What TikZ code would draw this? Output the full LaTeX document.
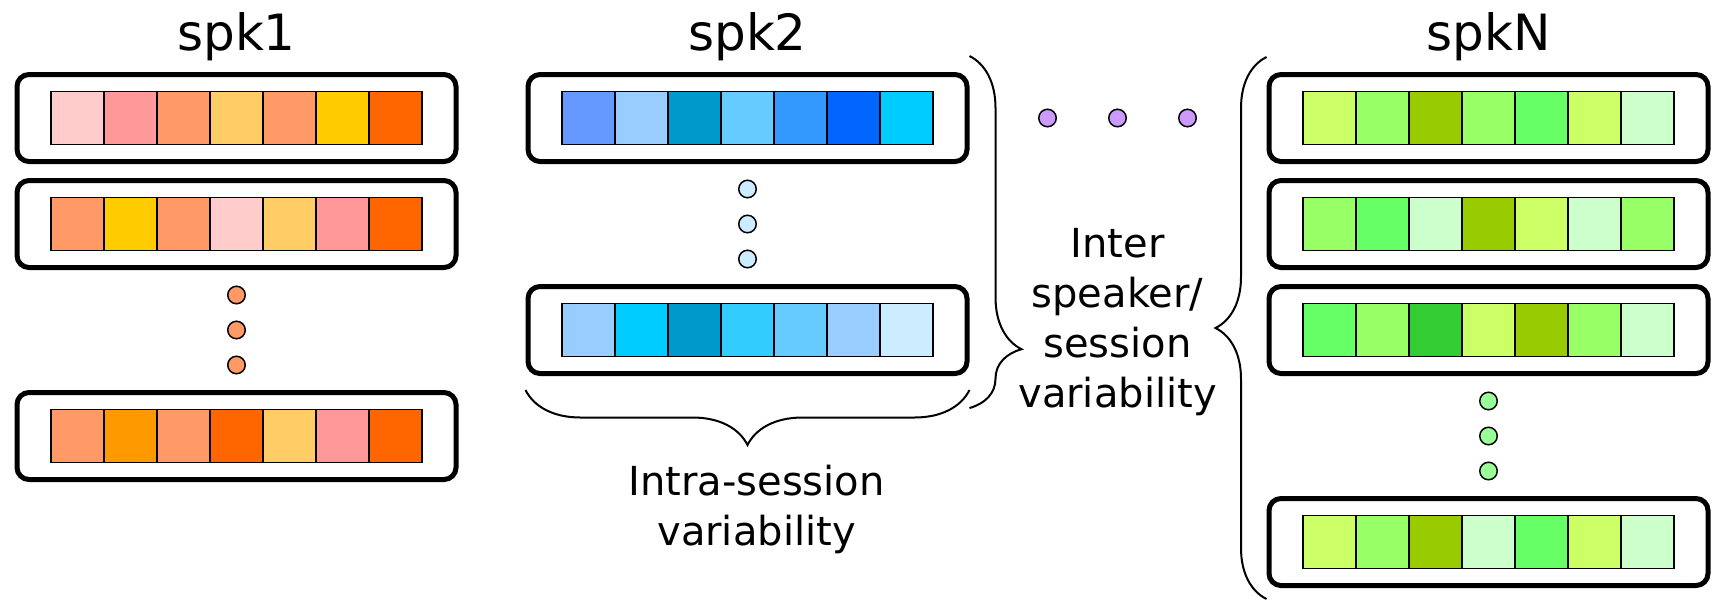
\documentclass[tikz,border=0pt]{standalone}
\usepackage{fontspec}
\setmainfont{DejaVu Sans}
\usepackage{tikz}
\usetikzlibrary{decorations.pathreplacing}

\definecolor{pinkA}{HTML}{FFCCCC}
\definecolor{pinkB}{HTML}{FF9999}
\definecolor{salmon}{HTML}{FF9966}
\definecolor{sand}{HTML}{FFCC66}
\definecolor{gold}{HTML}{FFCC00}
\definecolor{amber}{HTML}{FF9900}
\definecolor{tang}{HTML}{FF6600}
\definecolor{blueA}{HTML}{6699FF}
\definecolor{blueB}{HTML}{99CCFF}
\definecolor{blueC}{HTML}{0099CC}
\definecolor{blueD}{HTML}{66CCFF}
\definecolor{blueE}{HTML}{3399FF}
\definecolor{blueF}{HTML}{0066FF}
\definecolor{blueG}{HTML}{00CCFF}
\definecolor{blueH}{HTML}{33CCFF}
\definecolor{blueI}{HTML}{CCECFF}
\definecolor{limeA}{HTML}{CCFF66}
\definecolor{limeB}{HTML}{99FF66}
\definecolor{limeC}{HTML}{99CC00}
\definecolor{limeD}{HTML}{66FF66}
\definecolor{limeE}{HTML}{CCFFCC}
\definecolor{limeF}{HTML}{33CC33}
\definecolor{mint}{HTML}{99FF99}
\definecolor{lilac}{HTML}{CC99FF}

% seven cells across the row box #1
\newcommand{\cellrow}[2]{%
  \foreach \c [count=\k] in {#2}
    \node (#1-\k) [cell, fill=\c] at ([xshift={(\k-4)*26.5pt}]#1.center) {};%
}

\begin{document}
\begin{tikzpicture}[
                    x=0.5pt, y=-0.5pt,
                    node distance=53pt,
                    row/.style={draw, line width=2.5pt, rounded corners=6pt,
                                minimum width=219.5pt, minimum height=43.5pt},
                    cell/.style={draw, line width=0.75pt, inner sep=0pt, minimum size=26.5pt},
                    dot/.style={circle, draw, line width=0.75pt, inner sep=0pt, minimum size=8.75pt},
                    title/.style={anchor=base, font=\fontsize{25}{30}\selectfont},
                    note/.style={anchor=base, align=center, font=\fontsize{20}{25}\selectfont},
                    curly/.style={decorate, line width=1pt}
                ]
                \useasboundingbox (0,0) rectangle (1713,601);

                \node (t1) [title] at (236.5,50)  {spk1};
                \node (t2) [title] at (747.5,50)  {spk2};
                \node (tN) [title] at (1488.5,50) {spkN};

                % spk1
                \node (s1r1) [row] at (236.5,118) {};
                \node (s1r2) [row, below of=s1r1] {};
                \node (s1d2) [dot, fill=salmon, below of=s1r2] {};
                \node (s1d1) [dot, fill=salmon, above of=s1d2, node distance=17.5pt] {};
                \node (s1d3) [dot, fill=salmon, below of=s1d2, node distance=17.5pt] {};
                \node (s1r3) [row, below of=s1d2] {};
                \cellrow{s1r1}{pinkA,pinkB,salmon,sand,salmon,gold,tang}
                \cellrow{s1r2}{salmon,gold,salmon,pinkA,sand,pinkB,tang}
                \cellrow{s1r3}{salmon,amber,salmon,tang,sand,pinkB,tang}

                % spk2
                \node (s2r1) [row] at (747.5,118) {};
                \node (s2d2) [dot, fill=blueI, below of=s2r1] {};
                \node (s2d1) [dot, fill=blueI, above of=s2d2, node distance=17.5pt] {};
                \node (s2d3) [dot, fill=blueI, below of=s2d2, node distance=17.5pt] {};
                \node (s2r2) [row, below of=s2d2] {};
                \cellrow{s2r1}{blueA,blueB,blueC,blueD,blueE,blueF,blueG}
                \cellrow{s2r2}{blueB,blueG,blueC,blueH,blueD,blueB,blueI}

                % spkN
                \node (s3r1) [row] at (1488.5,118) {};
                \node (s3r2) [row, below of=s3r1] {};
                \node (s3r3) [row, below of=s3r2] {};
                \node (s3d2) [dot, fill=mint, below of=s3r3] {};
                \node (s3d1) [dot, fill=mint, above of=s3d2, node distance=17.5pt] {};
                \node (s3d3) [dot, fill=mint, below of=s3d2, node distance=17.5pt] {};
                \node (s3r4) [row, below of=s3d2] {};
                \cellrow{s3r1}{limeA,limeB,limeC,limeB,limeD,limeA,limeE}
                \cellrow{s3r2}{limeB,limeD,limeE,limeC,limeA,limeE,limeB}
                \cellrow{s3r3}{limeD,limeB,limeF,limeA,limeC,limeB,limeE}
                \cellrow{s3r4}{limeA,limeB,limeC,limeE,limeD,limeA,limeE}

                % speakers in between
                \node (p2) [dot, fill=lilac] at (1117.5,118) {};
                \node (p1) [dot, fill=lilac, left of=p2,  node distance=35pt] {};
                \node (p3) [dot, fill=lilac, right of=p2, node distance=35pt] {};

                \node (intra) [note] at (756.5,545)  {Intra-session\\variability};
                \node (inter) [note] at (1117.5,407) {Inter\\speaker/\\session\\variability};

                \draw[curly, decoration={brace, amplitude=27.5pt}]
                    ([yshift=-7pt]s2r2.south east) -- ([yshift=-7pt]s2r2.south west);
                \draw[curly, decoration={brace, amplitude=26pt, aspect=0.833}]
                    ([yshift=8pt]s2r1.north east) -- ([yshift=-16pt]s2r2.south east);
                \draw[curly, decoration={brace, amplitude=25.5pt}]
                    ([yshift=-5.5pt]s3r4.south west) -- ([yshift=7.5pt]s3r1.north west);
            \end{tikzpicture}
\end{document}
